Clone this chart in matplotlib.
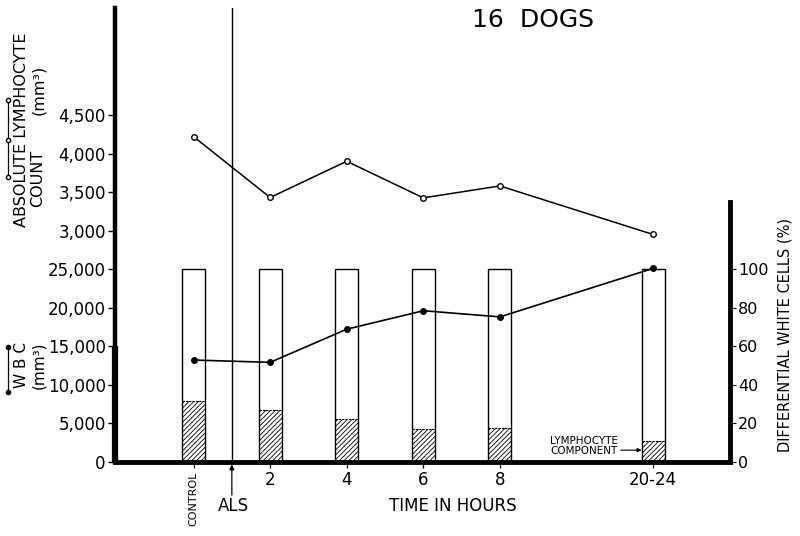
import matplotlib
matplotlib.use("Agg")
import matplotlib.pyplot as plt
from matplotlib.lines import Line2D

# data
time_labels = ["CONTROL", "2", "4", "6", "8", "20-24"]
x_pos = [0, 1, 2, 3, 4, 6]
wbc = [13200, 12900, 17200, 19600, 18800, 25100]          # WBC (mm3)
lymph_abs = [4220, 3430, 3900, 3425, 3580, 2950]          # absolute lymphocyte count
lymph_pct = [31.5, 27.0, 22.0, 17.0, 17.5, 11.0]          # lymphocyte component (%)
diff_total = [100, 100, 100, 100, 100, 100]

wbc_ticks = [0, 5000, 10000, 15000, 20000, 25000]
lymph_ticks = [3000, 3500, 4000, 4500]
pct_ticks = [0, 20, 40, 60, 80, 100]

W, H = 800, 536
fig = plt.figure(figsize=(W / 100, H / 100), dpi=100)
plt.rcParams['hatch.linewidth'] = 0.6


def fx(px):
    return px / W


def fy(py):
    return 1 - py / H


ymax_wbc = 58900
bar_w = 0.30

# base axes: differential % (bars) with the right-hand scale
ax = fig.add_axes([0.1443, 0.1386, 0.7678, 0.8465])
ax.set_xlim(-1.02, 7.0)
ax.set_ylim(0, ymax_wbc / 250)

ax.bar(x_pos, diff_total, width=bar_w, color='white', edgecolor='none', zorder=1)
ax.bar(x_pos, lymph_pct, width=bar_w, color='white', edgecolor='black',
       linewidth=0, hatch='///////', zorder=2)
ax.hlines(lymph_pct, [x - bar_w / 2 for x in x_pos], [x + bar_w / 2 for x in x_pos],
          colors='black', linewidth=0.8, linestyles=(0, (2, 1)), zorder=3)
ax.bar(x_pos, diff_total, width=bar_w, fill=False, edgecolor='black',
       linewidth=1.0, zorder=3)

ax.axvline(0.5, color='black', linewidth=1.0, zorder=4)

ax.spines['top'].set_visible(False)
ax.spines['left'].set_linewidth(3.2)
ax.spines['bottom'].set_linewidth(3.5)
ax.spines['right'].set_linewidth(3.5)
ax.spines['right'].set_bounds(0, 135)

ax.set_xticks(x_pos, time_labels)
ax.tick_params(axis='x', direction='out', length=4, width=0.9, labelsize=12, pad=3)
ctl = ax.get_xticklabels()[0]
ctl.set_rotation(90)
ctl.set_fontsize(8)

# ALS arrow below the axis
ax.annotate('', xy=(0.5, 0), xycoords='data', xytext=(0, -24),
            textcoords='offset points', annotation_clip=False,
            arrowprops=dict(arrowstyle='-|>', color='black', lw=0.9,
                            mutation_scale=7, shrinkA=0, shrinkB=2))

# lymphocyte component callout
ax.annotate('', xy=(6 - bar_w / 2, 6), xycoords='data', xytext=(-15, 0),
            textcoords='offset points',
            arrowprops=dict(arrowstyle='-|>', color='black', lw=0.8,
                            mutation_scale=6, shrinkA=0, shrinkB=0))
fig.text(fx(618), fy(446), "LYMPHOCYTE\nCOMPONENT", ha='right', va='center',
         fontsize=7.5, linespacing=1.0)

# WBC scale (left, lower part)
axw = ax.twinx()
axw.set_ylim(0, ymax_wbc)
axw.yaxis.tick_left()
axw.set_yticks(wbc_ticks, [f"{v:,}" for v in wbc_ticks])
axw.tick_params(axis='y', direction='out', length=5, width=1.0, labelsize=12, pad=2)
for s in axw.spines.values():
    s.set_visible(False)
axw.plot(x_pos, wbc, color='black', linewidth=1.2, marker='o', markersize=4,
         markerfacecolor='black', zorder=5)
axw.plot([-1.02, -1.02], [0, 15000], color='black', linewidth=4.5,
         solid_capstyle='butt', clip_on=False)

# absolute lymphocyte scale (left, upper part)
axl = ax.twinx()
axl.set_ylim(0, ymax_wbc / 10)
axl.yaxis.tick_left()
axl.set_yticks(lymph_ticks, [f"{v:,}" for v in lymph_ticks])
axl.tick_params(axis='y', direction='out', length=5, width=1.0, labelsize=12, pad=2)
for s in axl.spines.values():
    s.set_visible(False)
axl.plot(x_pos, lymph_abs, color='black', linewidth=1.1, marker='o', markersize=4,
         markerfacecolor='white', markeredgewidth=1.0, zorder=5)

# percentage ticks go on the right (twinx moved them left)
ax.yaxis.tick_right()
ax.set_yticks(pct_ticks)
ax.tick_params(axis='y', which='both', left=False, labelleft=False, right=True,
               labelright=True, direction='out', length=4, width=0.8,
               labelsize=11.5, pad=2)

# axis titles
fig.text(fx(22), fy(130), "ABSOLUTE LYMPHOCYTE", rotation=90, ha='center', va='center',
         fontsize=11.5)
fig.text(fx(38), fy(178), "COUNT", rotation=90, ha='center', va='center', fontsize=11.5)
fig.text(fx(39), fy(90), "(mm³)", rotation=90, ha='center', va='center', fontsize=11.5)
fig.text(fx(21), fy(365), "W B C", rotation=90, ha='center', va='center', fontsize=11)
fig.text(fx(39), fy(365), "(mm³)", rotation=90, ha='center', va='center', fontsize=11)
fig.text(fx(785), fy(335), "DIFFERENTIAL WHITE CELLS (%)", rotation=90, ha='center',
         va='center', fontsize=10.5)
fig.text(fx(453), fy(506), "TIME IN HOURS", ha='center', va='center', fontsize=12)
fig.text(fx(233), fy(506), "ALS", ha='center', va='center', fontsize=12)
fig.text(fx(533), fy(20), "16  DOGS", ha='center', va='center', fontsize=18)

# legend keys drawn beside the axis titles
fig.add_artist(Line2D([fx(8)] * 3, [fy(100), fy(140), fy(177)], transform=fig.transFigure,
                      color='black', linewidth=0.9, marker='o', markersize=3,
                      markerfacecolor='white'))
fig.add_artist(Line2D([fx(8)] * 2, [fy(347), fy(392)], transform=fig.transFigure,
                      color='black', linewidth=0.9, marker='o', markersize=3,
                      markerfacecolor='black'))

fig.savefig("out.png", dpi=100, facecolor='white')
